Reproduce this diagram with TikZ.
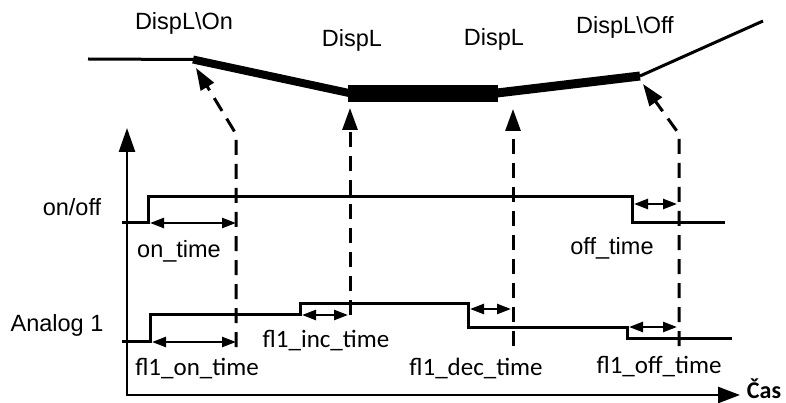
\documentclass[tikz,border=0pt]{standalone}
\usepackage{fontspec}
\setmainfont{Liberation Sans}
\newfontfamily\calib{Carlito}
\usetikzlibrary{arrows.meta}
\begin{document}
\begin{tikzpicture}[x=1pt,y=-1pt,
  sig/.style={line width=3pt, line join=miter},
  axisline/.style={line width=2.6pt,{Triangle[length=24pt,width=16pt]}-{Triangle[length=22pt,width=16pt]}},
  dsh/.style={line width=3pt, dash pattern=on 15pt off 9pt},
  dimarr/.style={line width=2.4pt,{Triangle[length=14pt,width=10pt]}-{Triangle[length=14pt,width=10pt]}},
  upar/.style={dsh,-{Triangle[length=22pt,width=15pt]}},
  lbl/.style={font=\fontsize{23.5}{28}\selectfont, anchor=base, inner sep=0pt},
  flbl/.style={font=\calib\fontsize{25}{30}\selectfont, anchor=base, inner sep=0pt},
]
\useasboundingbox (0,0) rectangle (786,403);
% top curve
\coordinate (t0) at (88,59);
\coordinate (t1) at (193,59.5);
\coordinate (t2) at (349,93);
\coordinate (t3) at (497,93);
\coordinate (t4) at (640,76);
\coordinate (t5) at (763,21);
\draw[line width=3pt] (t0) -- (t1);
\draw[line width=8pt] (t1) -- (t2);
\fill (348,85) rectangle (498,102);
\draw[line width=9pt] (t3) -- (t4);
\draw[line width=3pt] (t4) -- (t5);
% dashed arrows
\draw[upar] (236,347) -- (236,134) -- (196,68);
\draw[upar] (350,315) -- (350,108);
\draw[upar] (513,346) -- (513,109);
\draw[upar] (679,346) -- (679,134) -- (643,84);
% axes
\draw[axisline] (127,128) -- (127,395) -- (740,395);
% signals
\draw[sig] (122,223) -- (148,223) -- (148,197) -- (632,197) -- (632,223) -- (725,223);
\draw[sig] (122,341) -- (150,341) -- (150,314) -- (300,314) -- (300,303) -- (468,303) -- (468,327) -- (627,327) -- (627,338) -- (732,338);
% dimension arrows
\draw[dimarr] (150,223) -- (236,223);
\draw[dimarr] (634,204) -- (677,204);
\draw[dimarr] (152,342) -- (236,342);
\draw[dimarr] (302,315) -- (348,315);
\draw[dimarr] (470,309) -- (511,309);
\draw[dimarr] (629,327) -- (677,327);
% labels
\node[lbl] (l1) at (184,30) {DispL\textbackslash On};
\node[lbl] (l2) at (352,47) {DispL};
\node[lbl] (l3) at (494,46) {DispL};
\node[lbl] (l4) at (625,34) {DispL\textbackslash Off};
\node[lbl] (l5) at (72,216) {on/off};
\node[lbl] (l6) at (179,257) {on\_time};
\node[lbl] (l7) at (612,254) {off\_time};
\node[lbl] (l8) at (57,331) {Analog 1};
\node[flbl] (f1) at (197,375) {fl1\_on\_time};
\node[flbl] (f2) at (326,347) {fl1\_inc\_time};
\node[flbl] (f3) at (476,375) {fl1\_dec\_time};
\node[flbl] (f4) at (659,373) {fl1\_off\_time};
\node[flbl,font=\calib\bfseries\fontsize{24}{30}\selectfont] (cas) at (764,398) {Čas};
\end{tikzpicture}
\end{document}
